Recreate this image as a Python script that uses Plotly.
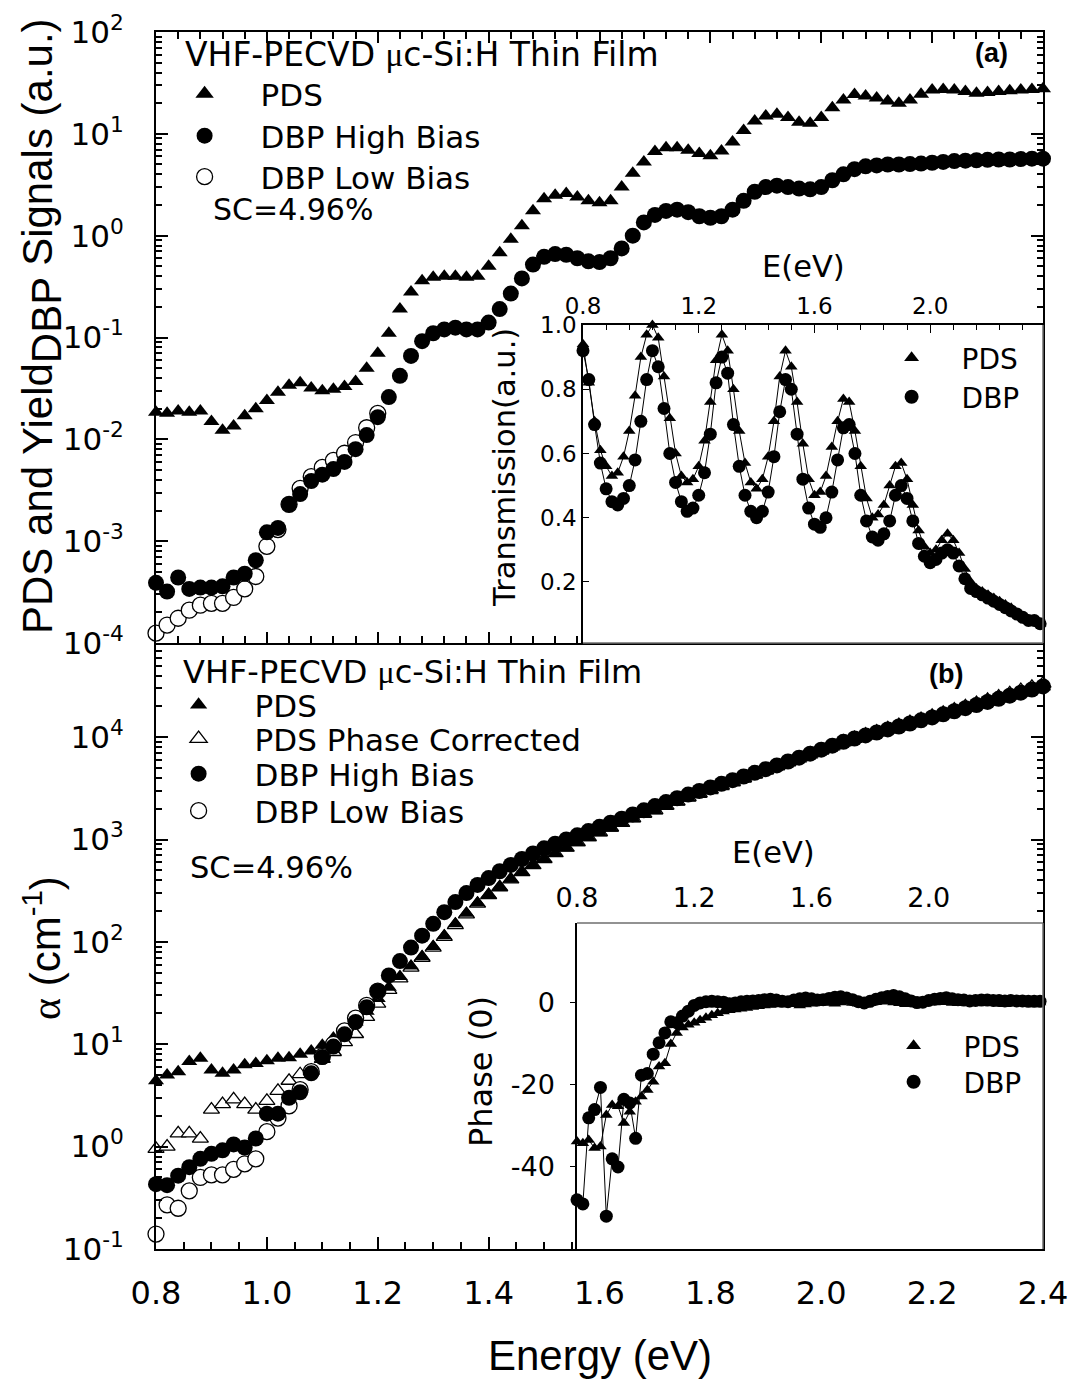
import plotly.graph_objects as go

# ---------------- data ----------------
energy = [0.80, 0.82, 0.84, 0.86, 0.88, 0.90, 0.92, 0.94, 0.96, 0.98,
          1.00, 1.02, 1.04, 1.06, 1.08, 1.10, 1.12, 1.14, 1.16, 1.18,
          1.20, 1.22, 1.24, 1.26, 1.28, 1.30, 1.32, 1.34, 1.36, 1.38,
          1.40, 1.42, 1.44, 1.46, 1.48, 1.50, 1.52, 1.54, 1.56, 1.58,
          1.60, 1.62, 1.64, 1.66, 1.68, 1.70, 1.72, 1.74, 1.76, 1.78,
          1.80, 1.82, 1.84, 1.86, 1.88, 1.90, 1.92, 1.94, 1.96, 1.98,
          2.00, 2.02, 2.04, 2.06, 2.08, 2.10, 2.12, 2.14, 2.16, 2.18,
          2.20, 2.22, 2.24, 2.26, 2.28, 2.30, 2.32, 2.34, 2.36, 2.38,
          2.40]
energy_low = energy[:21]
energy_T = energy[:80]

# (a) PDS and DBP yield signals (a.u.)
pds_signal = [0.0185, 0.018, 0.019, 0.0185, 0.019, 0.015, 0.0123, 0.0135, 0.017, 0.020,
              0.024, 0.029, 0.034, 0.036, 0.032, 0.030, 0.031, 0.033, 0.037, 0.050,
              0.070, 0.11, 0.19, 0.28, 0.36, 0.39, 0.40, 0.40, 0.39, 0.40,
              0.50, 0.68, 0.92, 1.25, 1.76, 2.3, 2.5, 2.6, 2.4, 2.2,
              2.1, 2.2, 3.0, 4.1, 5.3, 6.7, 7.3, 7.3, 6.9, 6.4,
              6.1, 6.8, 8.3, 10.8, 13.4, 15.0, 15.6, 14.5, 13.0, 12.7,
              14.5, 18.0, 21.5, 24.4, 23.5, 22.5, 21.0, 20.0, 21.5, 24.5,
              27.0, 27.3, 27.0, 26.0, 25.0, 25.5, 26.0, 26.5, 27.0, 27.3,
              27.7]
dbp_high_signal = [3.9e-4, 3.2e-4, 4.4e-4, 3.4e-4, 3.5e-4, 3.5e-4, 3.6e-4, 4.4e-4, 4.8e-4, 6.5e-4,
                   1.22e-3, 1.35e-3, 2.3e-3, 2.9e-3, 3.9e-3, 4.5e-3, 5.1e-3, 6.0e-3, 8.0e-3, 1.1e-2,
                   1.65e-2, 2.6e-2, 4.2e-2, 6.6e-2, 0.092, 0.11, 0.12, 0.125, 0.12, 0.12,
                   0.14, 0.19, 0.27, 0.38, 0.52, 0.62, 0.66, 0.65, 0.60, 0.56,
                   0.55, 0.60, 0.75, 1.0, 1.35, 1.6, 1.75, 1.8, 1.7, 1.55,
                   1.5, 1.55, 1.8, 2.2, 2.7, 3.0, 3.1, 3.0, 2.9, 2.85,
                   3.0, 3.5, 4.0, 4.5, 4.8, 4.9, 5.0, 5.0, 5.05, 5.1,
                   5.2, 5.3, 5.4, 5.45, 5.5, 5.55, 5.6, 5.6, 5.65, 5.7,
                   5.7]
dbp_low_signal = [1.25e-4, 1.5e-4, 1.75e-4, 2.1e-4, 2.35e-4, 2.45e-4, 2.45e-4, 2.8e-4, 3.4e-4, 4.5e-4,
                  8.9e-4, 1.3e-3, 2.3e-3, 3.3e-3, 4.3e-3, 5.3e-3, 6.2e-3, 7.3e-3, 9.3e-3, 1.3e-2,
                  1.8e-2]

# inset (a) transmission (a.u.)
pds_trans = [0.94, 0.82, 0.70, 0.61, 0.56, 0.53, 0.54, 0.59, 0.67, 0.78,
             0.90, 0.97, 1.00, 0.96, 0.84, 0.71, 0.60, 0.53, 0.51, 0.52,
             0.56, 0.64, 0.76, 0.89, 0.97, 0.92, 0.80, 0.67, 0.57, 0.51,
             0.49, 0.52, 0.59, 0.70, 0.84, 0.92, 0.87, 0.76, 0.63, 0.52,
             0.47, 0.48, 0.53, 0.62, 0.70, 0.77, 0.76, 0.67, 0.56, 0.46,
             0.40, 0.41, 0.44, 0.50, 0.56, 0.57, 0.52, 0.44, 0.36, 0.31,
             0.29, 0.30, 0.33, 0.35, 0.33, 0.29, 0.24, 0.20, 0.18, 0.17,
             0.16, 0.15, 0.14, 0.13, 0.12, 0.10, 0.09, 0.08, 0.08, 0.07]
dbp_trans = [0.92, 0.83, 0.69, 0.57, 0.49, 0.45, 0.44, 0.46, 0.50, 0.58,
             0.70, 0.83, 0.92, 0.87, 0.74, 0.60, 0.51, 0.45, 0.42, 0.43,
             0.47, 0.54, 0.66, 0.82, 0.90, 0.85, 0.69, 0.56, 0.47, 0.42,
             0.40, 0.42, 0.48, 0.59, 0.73, 0.83, 0.80, 0.66, 0.52, 0.43,
             0.38, 0.37, 0.40, 0.48, 0.58, 0.68, 0.69, 0.60, 0.47, 0.39,
             0.34, 0.33, 0.35, 0.39, 0.47, 0.50, 0.46, 0.39, 0.32, 0.28,
             0.26, 0.27, 0.29, 0.30, 0.29, 0.25, 0.21, 0.18, 0.17, 0.16,
             0.15, 0.14, 0.13, 0.12, 0.11, 0.10, 0.09, 0.08, 0.08, 0.07]

# (b) absorption coefficient alpha (cm^-1)
pds_alpha = [4.4, 5.0, 5.4, 6.8, 7.3, 5.6, 5.2, 5.6, 6.3, 6.5,
             6.9, 7.3, 7.4, 8.0, 8.6, 9.8, 11.5, 13.5, 16.5, 21,
             28, 36, 46, 58, 72, 90, 115, 150, 190, 240,
             290, 345, 410, 480, 560, 640, 730, 825, 930, 1040,
             1160, 1290, 1430, 1590, 1760, 1900, 2100, 2310, 2530, 2760,
             3000, 3270, 3560, 3880, 4240, 4650, 5100, 5580, 6120, 6700,
             7300, 8000, 8750, 9500, 10250, 10950, 11750, 12600, 13500, 14450,
             15450, 16550, 17750, 19050, 20450, 21950, 23550, 25250, 27050, 29050,
             31100]
pds_corr_alpha = [0.95, 1.0, 1.35, 1.35, 1.2, 2.3, 2.6, 2.9, 2.6, 2.3,
                  2.8, 3.5, 4.4, 5.1, 5.5, 7.2, 8.4, 10.5, 12.6, 18.5,
                  25, 34, 44, 56, 70, 88, 112, 146, 186, 236,
                  286, 342, 408, 480, 562, 645, 738, 835, 942, 1055,
                  1180, 1310, 1455, 1615, 1790, 1940, 2140, 2360, 2590, 2830,
                  3080, 3360, 3660, 3990, 4360, 4780, 5240, 5740, 6300, 6900,
                  7520, 8250, 9030, 9820, 10600, 11350, 12200, 13100, 14050, 15050,
                  16150, 17300, 18600, 20000, 21500, 23100, 24900, 26800, 28800, 31000,
                  33300]
dbp_high_alpha = [0.43, 0.42, 0.52, 0.63, 0.76, 0.85, 0.92, 1.05, 0.98, 1.2,
                  2.1, 2.1, 3.0, 3.4, 5.2, 7.5, 9.5, 12.5, 16.5, 23,
                  33, 47, 65, 88, 115, 150, 195, 245, 300, 360,
                  420, 490, 565, 645, 730, 820, 910, 1000, 1100, 1210,
                  1330, 1460, 1600, 1760, 1930, 2120, 2320, 2530, 2750, 2980,
                  3230, 3500, 3800, 4130, 4480, 4870, 5300, 5780, 6300, 6900,
                  7550, 8250, 9000, 9700, 10400, 11100, 11900, 12700, 13600, 14600,
                  15600, 16700, 17900, 19200, 20600, 22100, 23700, 25400, 27200, 29200,
                  31300]
dbp_low_alpha = [0.14, 0.27, 0.25, 0.37, 0.50, 0.53, 0.53, 0.60, 0.68, 0.76,
                 1.4, 1.9, 2.5, 3.6, 5.4, 7.6, 10, 13.5, 18, 24,
                 33]

# inset (b) phase (degrees)
pds_phase = [-33.8, -34.2, -33.4, -35.4, -35.0, -27.3, -24.9, -25.2, -29.3, -26.5,
             -24.1, -22.8, -21.2, -19.2, -15.5, -14.7, -10.0, -7.3, -6.0, -5.3,
             -4.8, -4.2, -3.6, -3.0, -2.5, -2.1, -1.8, -1.6, -1.4, -1.2,
             -1.0, -0.8, -0.6, -0.5, -0.4, -0.3, -0.2, -0.3, -0.6, -0.4,
             -0.2, 0.0, 0.1, 0.0, -0.2, 0.1, 0.3, 0.0, -0.2, -0.4,
             -0.1, 0.2, 0.4, 0.3, 0.1, -0.1, -0.3, -0.2, 0.0, 0.1,
             0.2, 0.1, 0.3, 0.2, 0.0, -0.1, 0.0, 0.1, 0.2, 0.1,
             0.0, -0.1, -0.2, -0.3, 0.0, 0.1, 0.0, -0.1, 0.0, 0.1,
             0.0]
dbp_phase = [-48, -49, -28, -26, -20.6, -52, -38, -40, -23.5, -24.4,
             -33, -17.6, -17.2, -12.5, -9.7, -7.3, -4.6, -4.8, -3.2, -2.0,
             -0.6, 0.0, 0.3, 0.4, 0.3, 0.2, -0.2, 0.0, 0.3, 0.4,
             0.5, 0.6, 0.8, 0.9, 0.7, 0.4, 0.3, 0.7, 1.0, 1.2,
             1.0, 0.7, 0.8, 1.1, 1.4, 1.5, 1.2, 0.8, 0.3, 0.0,
             0.4, 0.9, 1.3, 1.6, 1.8, 1.5, 1.0, 0.5, 0.1, 0.2,
             0.6, 0.9, 1.1, 1.3, 1.0, 0.8, 0.7, 0.5, 0.6, 0.7,
             0.7, 0.6, 0.6, 0.5, 0.6, 0.5, 0.5, 0.4, 0.4, 0.4,
             0.3]

# tick labels
top_tickvals = [1e-4, 1e-3, 1e-2, 1e-1, 1e0, 1e1, 1e2]
top_ticktext = ["10<sup>-4</sup>", "10<sup>-3</sup>", "10<sup>-2</sup>", "10<sup>-1</sup>",
                "10<sup>0</sup>", "10<sup>1</sup>", "10<sup>2</sup>"]
bot_tickvals = [1e-1, 1e0, 1e1, 1e2, 1e3, 1e4]
bot_ticktext = ["10<sup>-1</sup>", "10<sup>0</sup>", "10<sup>1</sup>",
                "10<sup>2</sup>", "10<sup>3</sup>", "10<sup>4</sup>"]
phase_tickvals = [-40, -20, 0]
phase_ticktext = ["-40", "-20", "0"]
trans_tickvals = [0.2, 0.4, 0.6, 0.8, 1.0]

# ---------------- layout helpers ----------------
W, H = 1075, 1381
ARIAL = "Liberation Sans, Arial, Helvetica, sans-serif"
WIDE = "DejaVu Sans, Verdana, sans-serif"


def fx(p):
    return p / W


def fy(p):
    return 1 - p / H


minor_top = [m * 10 ** d for d in range(-4, 2) for m in range(2, 10)]
minor_bot = [m * 10 ** d for d in range(-1, 5) for m in range(2, 10) if m * 10 ** d < 8e4]

fig = go.Figure()

TRI_F = dict(symbol="triangle-up", color="black", line=dict(width=0))
TRI_O = dict(symbol="triangle-up", color="white", line=dict(color="black", width=1.3))
CIR_F = dict(symbol="circle", color="black", line=dict(width=0))
CIR_O = dict(symbol="circle", color="white", line=dict(color="black", width=1.3))


def mk(base, size):
    d = dict(base)
    d["size"] = size
    return d


legend_layouts = {}
legend_count = [0]


def legend_item(name, marker, xa, ya, sym_x, row_y, size, itemwidth):
    legend_count[0] += 1
    lid = "legend" if legend_count[0] == 1 else "legend%d" % legend_count[0]
    fig.add_trace(go.Scatter(x=[None], y=[None], mode="markers", xaxis=xa, yaxis=ya,
                             marker=marker, name=name, legend=lid))
    legend_layouts[lid] = dict(x=fx(sym_x - 6.4 - itemwidth / 2), y=fy(row_y),
                               xanchor="left", yanchor="middle", bgcolor="rgba(0,0,0,0)",
                               borderwidth=0, itemwidth=itemwidth,
                               font=dict(size=size, family=WIDE))


# ---- panel (a) ----
fig.add_trace(go.Scatter(x=energy, y=pds_signal, mode="markers", xaxis="x", yaxis="y",
                         marker=mk(TRI_F, 14), showlegend=False, cliponaxis=False))
fig.add_trace(go.Scatter(x=energy_low, y=dbp_low_signal, mode="markers", xaxis="x", yaxis="y",
                         marker=mk(CIR_O, 16), showlegend=False, cliponaxis=False))
fig.add_trace(go.Scatter(x=energy, y=dbp_high_signal, mode="markers", xaxis="x", yaxis="y",
                         marker=mk(CIR_F, 16), showlegend=False, cliponaxis=False))
legend_item("PDS", mk(TRI_F, 16), "x", "y", 206, 94, 31, 102)
legend_item("DBP High Bias", mk(CIR_F, 16), "x", "y", 206, 136, 31, 102)
legend_item("DBP Low Bias", mk(CIR_O, 16), "x", "y", 206, 177, 31, 102)

# ---- panel (b) ----
fig.add_trace(go.Scatter(x=energy, y=pds_corr_alpha, mode="markers", xaxis="x2", yaxis="y2",
                         marker=mk(TRI_O, 14), showlegend=False, cliponaxis=False))
fig.add_trace(go.Scatter(x=energy, y=pds_alpha, mode="markers", xaxis="x2", yaxis="y2",
                         marker=mk(TRI_F, 14), showlegend=False, cliponaxis=False))
fig.add_trace(go.Scatter(x=energy_low, y=dbp_low_alpha, mode="markers", xaxis="x2", yaxis="y2",
                         marker=mk(CIR_O, 16), showlegend=False, cliponaxis=False))
fig.add_trace(go.Scatter(x=energy, y=dbp_high_alpha, mode="markers", xaxis="x2", yaxis="y2",
                         marker=mk(CIR_F, 16), showlegend=False, cliponaxis=False))
legend_item("PDS", mk(TRI_F, 15), "x2", "y2", 200, 705, 31, 102)
legend_item("PDS Phase Corrected", mk(TRI_O, 15), "x2", "y2", 200, 739, 31, 102)
legend_item("DBP High Bias", mk(CIR_F, 16), "x2", "y2", 200, 774, 31, 102)
legend_item("DBP Low Bias", mk(CIR_O, 16), "x2", "y2", 200, 811, 31, 102)

# ---- inset (a) transmission ----
for yv in (pds_trans, dbp_trans):
    fig.add_trace(go.Scatter(x=energy_T, y=yv, mode="lines", xaxis="x3", yaxis="y3",
                             line=dict(color="black", width=1), showlegend=False))
fig.add_trace(go.Scatter(x=energy_T, y=pds_trans, mode="markers", xaxis="x3", yaxis="y3",
                         marker=mk(TRI_F, 11), showlegend=False, cliponaxis=False))
fig.add_trace(go.Scatter(x=energy_T, y=dbp_trans, mode="markers", xaxis="x3", yaxis="y3",
                         marker=mk(CIR_F, 13), showlegend=False, cliponaxis=False))
legend_item("PDS", mk(TRI_F, 13), "x3", "y3", 913, 358, 28, 90)
legend_item("DBP", mk(CIR_F, 14), "x3", "y3", 913, 397, 28, 90)

# ---- inset (b) phase ----
for yv in (pds_phase, dbp_phase):
    fig.add_trace(go.Scatter(x=energy, y=yv, mode="lines", xaxis="x4", yaxis="y4",
                             line=dict(color="black", width=1), showlegend=False))
fig.add_trace(go.Scatter(x=energy, y=pds_phase, mode="markers", xaxis="x4", yaxis="y4",
                         marker=mk(TRI_F, 11), showlegend=False, cliponaxis=False))
fig.add_trace(go.Scatter(x=energy, y=dbp_phase, mode="markers", xaxis="x4", yaxis="y4",
                         marker=mk(CIR_F, 13), showlegend=False, cliponaxis=False))
legend_item("PDS", mk(TRI_F, 13), "x4", "y4", 915, 1046, 28, 90)
legend_item("DBP", mk(CIR_F, 14), "x4", "y4", 915, 1082, 28, 90)

# ---------------- axes ----------------
main_x = dict(range=[0.8, 2.4], showline=True, linecolor="black", linewidth=2,
              ticks="inside", tickcolor="black", tickwidth=1.5, tick0=0.8, dtick=0.2,
              showgrid=False, zeroline=False, automargin=False)
main_y = dict(type="log", showline=True, linecolor="black", linewidth=2, mirror="ticks",
              ticks="inside", tickcolor="black", tickwidth=1.5, ticklen=12,
              showgrid=False, zeroline=False, automargin=False,
              tickfont=dict(size=31, family=WIDE), ticklabelstandoff=24)

fig.update_layout(
    xaxis=dict(main_x, domain=[fx(156), fx(1043)], anchor="y", mirror="ticks",
               ticklen=11, showticklabels=False,
               minor=dict(ticks="inside", ticklen=7, tickwidth=1.5, tickcolor="black",
                          tick0=0.8, dtick=0.04, showgrid=False)),
    yaxis=dict(main_y, domain=[fy(643), fy(32)], anchor="x", range=[-4, 2],
               tickmode="array", tickvals=top_tickvals, ticktext=top_ticktext,
               minor=dict(ticks="inside", ticklen=6, tickwidth=1.5, tickcolor="black",
                          tickmode="array", tickvals=minor_top, showgrid=False)),
    xaxis2=dict(main_x, domain=[fx(156), fx(1043)], anchor="y2", mirror=False,
                ticklen=12, tickformat=".1f", tickfont=dict(size=32, family=WIDE),
                ticklabelstandoff=15,
                minor=dict(ticks="inside", ticklen=7, tickwidth=1.5, tickcolor="black",
                           tick0=0.8, dtick=0.05, showgrid=False)),
    yaxis2=dict(main_y, domain=[fy(1249), fy(644)], anchor="x2", range=[-1, 4.91],
                tickmode="array", tickvals=bot_tickvals, ticktext=bot_ticktext,
                minor=dict(ticks="inside", ticklen=6, tickwidth=1.5, tickcolor="black",
                           tickmode="array", tickvals=minor_bot, showgrid=False)),
    xaxis3=dict(domain=[fx(583), fx(1043)], anchor="y3", side="top", range=[0.8, 2.39],
                showline=True, linecolor="black", linewidth=1.5, ticks="inside",
                tickcolor="black", tickwidth=1.2, ticklen=8, tick0=0.8, dtick=0.4,
                tickformat=".1f", tickfont=dict(size=23, family=WIDE), ticklabelstandoff=0,
                showgrid=False, zeroline=False, automargin=False,
                minor=dict(ticks="inside", ticklen=5, tickwidth=1.2, tickcolor="black",
                           tick0=0.8, dtick=0.08, showgrid=False)),
    yaxis3=dict(domain=[fy(643), fy(325)], anchor="x3", range=[0.01, 1.0],
                showline=True, linecolor="black", linewidth=1.5, ticks="inside",
                tickcolor="black", tickwidth=1.2, ticklen=6, tickmode="array",
                tickvals=trans_tickvals, tickformat=".1f", tickfont=dict(size=23, family=WIDE),
                showgrid=False, zeroline=False, automargin=False),
    xaxis4=dict(domain=[fx(577), fx(1043)], anchor="y4", side="top", range=[0.8, 2.39],
                showline=False, ticks="", tick0=0.8, dtick=0.4, tickformat=".1f",
                tickfont=dict(size=27, family=WIDE), ticklabelstandoff=10,
                showgrid=False, zeroline=False, automargin=False),
    yaxis4=dict(domain=[fy(1249), fy(923)], anchor="x4", range=[-60, 19.5],
                showline=True, linecolor="black", linewidth=1.5, ticks="outside",
                tickcolor="black", tickwidth=1.2, ticklen=5, tickmode="array",
                tickvals=phase_tickvals, ticktext=phase_ticktext,
                tickfont=dict(size=27, family=WIDE),
                ticklabelstandoff=10, showgrid=False, zeroline=False, automargin=False),
)

fig.update_layout(**legend_layouts)

# ---------------- inset frame lines ----------------
GRAY = "#6e6e6e"
shapes = [
    dict(type="line", xref="paper", yref="paper", x0=fx(1043), x1=fx(1043), y0=fy(325), y1=fy(643),
         line=dict(color=GRAY, width=1.5), layer="above"),
    dict(type="line", xref="paper", yref="paper", x0=fx(583), x1=fx(1043), y0=fy(643), y1=fy(643),
         line=dict(color=GRAY, width=1.5), layer="above"),
    dict(type="line", xref="paper", yref="paper", x0=fx(577), x1=fx(1043), y0=fy(923), y1=fy(923),
         line=dict(color=GRAY, width=1.5), layer="above"),
    dict(type="line", xref="paper", yref="paper", x0=fx(1043), x1=fx(1043), y0=fy(923), y1=fy(1249),
         line=dict(color=GRAY, width=1.5), layer="above"),
]

# ---------------- text ----------------
MU = "<span style='font-family:Liberation Serif'>\u03bc</span>"
ALPHA = "<span style='font-family:Liberation Serif'>\u03b1</span>"


def txt(text, x, y, size, xanchor="left", angle=0, family=WIDE):
    return dict(text=text, xref="paper", yref="paper", x=fx(x), y=fy(y), xanchor=xanchor,
                yanchor="middle", textangle=angle, showarrow=False,
                font=dict(size=size, family=family))


annotations = [
    txt("VHF-PECVD " + MU + "c-Si:H Thin Film", 183, 54, 33),
    txt("<b>(a)</b>", 991, 53, 27, "center", family=ARIAL),
    txt("SC=4.96%", 211, 210, 30),
    txt("PDS and Yield<sub><span style='font-size:42px'>DBP</span></sub> Signals (a.u.)", 42, 326, 42,
        "center", -90, family=ARIAL),
    txt("VHF-PECVD " + MU + "c-Si:H Thin Film", 181, 672, 32),
    txt("<b>(b)</b>", 946, 674, 27, "center", family=ARIAL),
    txt("SC=4.96%", 188, 867, 30.5),
    txt(ALPHA + " (cm<sup>-1</sup>)", 42, 948, 42, "center", -90, family=ARIAL),
    txt("Energy (eV)", 600, 1355, 42, "center", family=ARIAL),
    txt("E(eV)", 803, 266, 30.5, "center"),
    txt("Transmission(a.u.)", 504, 468, 30.5, "center", -90),
    txt("E(eV)", 773, 852, 30.5, "center"),
    txt("Phase (0)", 481, 1072, 32, "center", -90),
]

fig.update_layout(
    template="none",
    width=W, height=H, margin=dict(l=0, r=0, t=0, b=0, pad=0),
    paper_bgcolor="white", plot_bgcolor="white",
    font=dict(family=ARIAL, color="black"),
    shapes=shapes, annotations=annotations,
)

fig.write_html("out.html")
